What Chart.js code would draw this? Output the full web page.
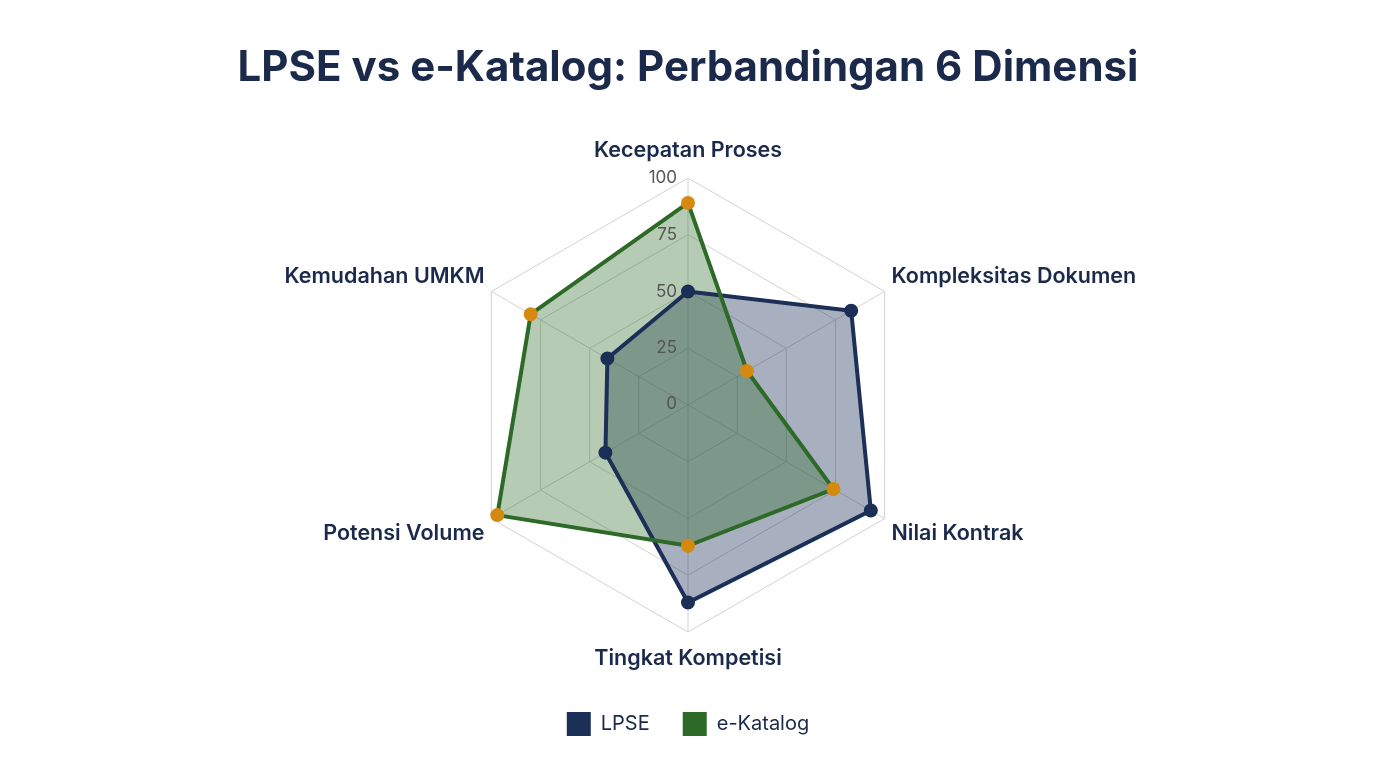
<!DOCTYPE html>
<html>
<head>
<meta charset="utf-8">
<script src="https://cdn.jsdelivr.net/npm/chart.js@4.4.1/dist/chart.umd.min.js"></script>
<style>
  html, body { margin: 0; padding: 0; background: #ffffff; }
  #wrap { width: 1376px; height: 768px; }
</style>
</head>
<body>
<div id="wrap"><canvas id="radar"></canvas></div>
<script>
// --- data ---------------------------------------------------------------
const dimensions = ['Kecepatan Proses', 'Kompleksitas Dokumen', 'Nilai Kontrak', 'Tingkat Kompetisi', 'Potensi Volume', 'Kemudahan UMKM'];
const lpseValues = [50, 83, 93, 87, 42, 41];
const katalogValues = [89, 30, 74, 62, 97, 80];
const tickValues = [0, 25, 50, 75, 100];

const navy = '#1b2f57';
const green = '#2d6a27';
const orange = '#d68910';
const ink = '#1b2a4a';

Chart.defaults.font.family = "Inter, 'Noto Sans', sans-serif";

// tick labels drawn over the fills, right-aligned just left of the vertical axis
const tickLabelPlugin = {
    id: 'tickLabels',
    afterDatasetsDraw(chart) {
        const scale = chart.scales.r;
        const ctx = chart.ctx;
        ctx.save();
        ctx.font = "17px Inter, 'Noto Sans', sans-serif";
        ctx.fillStyle = '#555555';
        ctx.textAlign = 'right';
        ctx.textBaseline = 'middle';
        tickValues.forEach(v => {
            const y = scale.yCenter - scale.getDistanceFromCenterForValue(v);
            ctx.fillText(String(v), scale.xCenter - 11, v === 0 ? y - 1 : y);
        });
        ctx.restore();
    }
};

// top and bottom labels get a taller line box so the radar keeps its size
const isVertical = i => i === 0 || i === 3;

new Chart(document.getElementById('radar').getContext('2d'), {
    type: 'radar',
    data: {
        labels: dimensions,
        datasets: [
            {
                label: 'LPSE',
                data: lpseValues,
                borderColor: navy,
                backgroundColor: 'rgba(27, 47, 87, 0.38)',
                borderWidth: 4,
                pointRadius: 6,
                pointBorderWidth: 2,
                pointBackgroundColor: navy,
                pointBorderColor: navy,
                fill: true,
                order: 1
            },
            {
                label: 'e-Katalog',
                data: katalogValues,
                borderColor: green,
                backgroundColor: 'rgba(45, 106, 39, 0.35)',
                borderWidth: 4,
                pointRadius: 6,
                pointBorderWidth: 2,
                pointBackgroundColor: orange,
                pointBorderColor: orange,
                fill: true,
                order: 0
            }
        ]
    },
    options: {
        responsive: true,
        maintainAspectRatio: false,
        animation: false,
        layout: { padding: { top: 0, bottom: 22, left: 0, right: 0 } },
        plugins: {
            filler: { drawTime: 'beforeDatasetsDraw' },
            title: {
                display: true,
                text: 'LPSE vs e-Katalog: Perbandingan 6 Dimensi',
                color: ink,
                font: { size: 42, weight: 'bold', lineHeight: 1.2 },
                padding: { top: 43, bottom: 37.6 }
            },
            legend: {
                position: 'bottom',
                labels: {
                    color: ink,
                    font: { size: 20 },
                    boxWidth: 24,
                    boxHeight: 24,
                    padding: 33,
                    generateLabels(chart) {
                        return chart.data.datasets.map((ds, i) => ({
                            text: ds.label,
                            fillStyle: ds.borderColor,
                            strokeStyle: ds.borderColor,
                            lineWidth: 0,
                            fontColor: ink,
                            hidden: false,
                            datasetIndex: i
                        }));
                    }
                }
            },
            tooltip: { enabled: false }
        },
        scales: {
            r: {
                min: 0,
                max: 100,
                ticks: { display: false, stepSize: 25 },
                grid: { color: '#d2d2d2', lineWidth: 1 },
                angleLines: { color: '#d2d2d2', lineWidth: 1 },
                pointLabels: {
                    color: ink,
                    font: ctx => ({ size: 21.5, weight: '600', lineHeight: isVertical(ctx.index) ? 1.86 : 1.0 }),
                    padding: ctx => isVertical(ctx.index) ? 7 : 8
                }
            }
        }
    },
    plugins: [tickLabelPlugin]
});
</script>
</body>
</html>
